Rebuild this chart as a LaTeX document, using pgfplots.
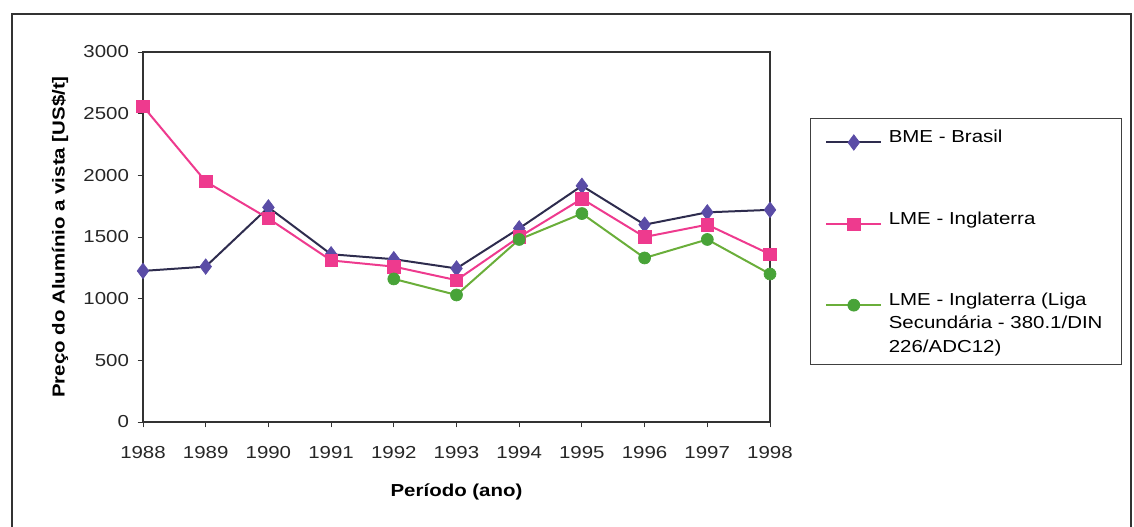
\documentclass[border=0pt]{standalone}
\usepackage{pgfplots}
\pgfplotsset{compat=1.18}
\usepackage{fontspec}
\setmainfont{Liberation Sans}[FakeStretch=1.18]

\definecolor{bmeline}{HTML}{2E2C4E}
\definecolor{bmemark}{HTML}{5A4CA6}
\definecolor{lmepink}{HTML}{EE3A8E}
\definecolor{ligaline}{HTML}{6AAE3A}
\definecolor{ligamark}{HTML}{48A338}
\definecolor{framegray}{HTML}{333333}

\begin{document}
\begin{tikzpicture}
\useasboundingbox (0pt,0pt) rectangle (850.5pt,395.25pt);
% outer chart frame
\draw[framegray, line width=1.5pt] (9pt,-2pt) -- (9pt,384.75pt) -- (848.25pt,384.75pt) -- (848.25pt,-2pt);

\begin{axis}[
  at={(107.25pt,78.75pt)}, anchor=south west,
  scale only axis, width=470.25pt, height=277.5pt,
  xmin=1988, xmax=1998, ymin=0, ymax=3000,
  xtick={1988,...,1998}, ytick={0,500,...,3000},
  xtick pos=lower, ytick pos=left,
  /pgf/number format/1000 sep={},
  /pgf/number format/assume math mode=true,
  tick align=outside, major tick length=4pt,
  tick style={black!80, line width=0.6pt},
  axis line style={black!80, line width=0.8pt},
  ticklabel style={font=\fontsize{13}{15.6}\selectfont, color=black!85},
  xticklabel style={yshift=-11pt},
  yticklabel style={xshift=-3pt},
  label style={font=\fontsize{13}{15.6}\selectfont\bfseries},
  xlabel={Período (ano)},
  ylabel={Preço do Alumínio a vista [US\$/t]},
  xlabel style={at={(axis description cs:0.5,-0.19)}, anchor=center},
  ylabel style={at={(axis description cs:-0.1324,0.5)}, anchor=center},
  clip=false,
  legend image code/.code={\draw[mark repeat=2, mark phase=2, #1] plot coordinates {(0pt,0pt) (20.5pt,0pt) (41pt,0pt)};},
  legend style={
    at={(axis description cs:1.0638,0.8216)}, anchor=north west,
    draw=black!75, line width=0.7pt, fill=white,
    inner xsep=11.25pt, inner ysep=3.7pt,
    font=\fontsize{13}{17.6}\selectfont,
    cells={anchor=base west},
    nodes={inner sep=0pt, text depth=},
    row sep=43.15pt,
    /tikz/every odd column/.append style={column sep=5pt},
  },
]
\addplot[color=bmeline, line width=1.5pt, mark=diamond*, mark size=5.8pt,
  mark options={fill=bmemark, draw=bmemark, line width=0.5pt}]
  coordinates {(1988,1225) (1989,1260) (1990,1740) (1991,1360) (1992,1320)
    (1993,1245) (1994,1570) (1995,1915) (1996,1600) (1997,1700) (1998,1720)};
\addlegendentry{\makebox[163pt][l]{\rule{0pt}{14.3pt}\strut BME - Brasil}}

\addplot[color=lmepink, line width=1.5pt, mark=square*, mark size=4.7pt,
  mark options={fill=lmepink, draw=lmepink, line width=0.5pt}]
  coordinates {(1988,2560) (1989,1950) (1990,1650) (1991,1310) (1992,1260)
    (1993,1150) (1994,1500) (1995,1810) (1996,1500) (1997,1600) (1998,1360)};
\addlegendentry{\strut LME - Inglaterra}

\addplot[color=ligaline, line width=1.5pt, mark=*, mark size=4.5pt,
  mark options={fill=ligamark, draw=ligamark, line width=0.5pt}]
  coordinates {(1992,1160) (1993,1030) (1994,1480) (1995,1690) (1996,1330)
    (1997,1480) (1998,1200)};
\addlegendentry{\begin{tabular}[t]{@{}l@{}}LME - Inglaterra (Liga\\Secundária - 380.1/DIN\\226/ADC12)\end{tabular}}
\end{axis}
\end{tikzpicture}
\end{document}
